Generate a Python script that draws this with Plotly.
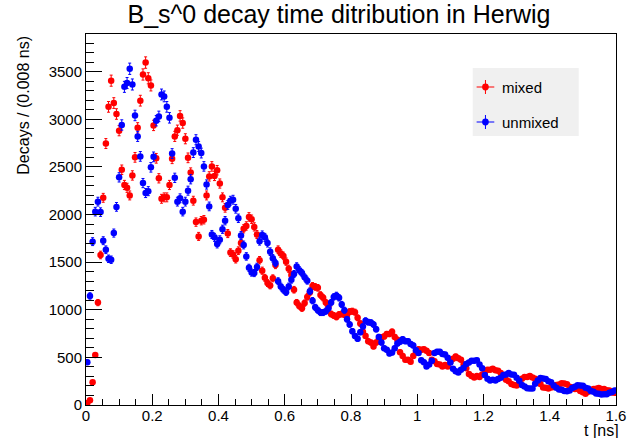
import math
import plotly.graph_objects as go

bin_width = 0.008
n_bins = 200
t_centers = [round((i + 0.5) * bin_width, 4) for i in range(n_bins)]

mixed = [
    20, 50, 240, 525, 1075, 1575, 2175, 2745, 3130, 3405,
    3170, 3055, 2880, 2470, 2310, 2280, 2200, 2410, 2600, 2910,
    3195, 3470, 3595, 3430, 3355, 2935, 2590, 2380, 2165, 2180,
    2180, 2310, 2585, 2820, 2885, 3035, 2960, 2795, 2595, 2440,
    2145, 1920, 1770, 1935, 1945, 2200, 2400, 2505, 2405, 2465,
    2325, 2180, 2070, 1800, 1600, 1580, 1530, 1620, 1700, 1850,
    1880, 1975, 1950, 1870, 1790, 1520, 1410, 1335, 1280, 1255,
    1330, 1470, 1630, 1590, 1565, 1505, 1430, 1365, 1210, 1075,
    1040, 1015, 1070, 1135, 1185, 1250, 1240, 1230, 1155, 1125,
    1075, 1035, 955, 940, 925, 950, 955, 950, 945, 980,
    985, 975, 915, 855, 770, 725, 670, 655, 615, 655,
    685, 710, 720, 745, 745, 770, 715, 685, 555, 515,
    475, 475, 455, 515, 550, 585, 580, 585, 570, 545,
    475, 460, 430, 425, 405, 420, 405, 455, 485, 510,
    490, 475, 425, 385, 325, 305, 290, 305, 295, 320,
    345, 370, 370, 380, 365, 360, 335, 305, 265, 250,
    220, 210, 205, 245, 275, 295, 295, 305, 290, 275,
    235, 220, 185, 182, 172, 185, 188, 210, 215, 228,
    225, 218, 192, 184, 167, 168, 147, 133, 118, 138,
    152, 168, 170, 178, 167, 168, 155, 153, 132, 128,
]

unmixed = [
    450, 1145, 1715, 2030, 2135, 2025, 1725, 1630, 1535, 1525,
    1805, 2080, 2390, 2940, 3340, 3380, 3530, 3365, 3040, 2820,
    2610, 2330, 2225, 2245, 2495, 2605, 2985, 3030, 3260, 3240,
    3130, 3015, 2640, 2385, 2135, 2170, 2030, 2135, 2250, 2370,
    2650, 2785, 2715, 2645, 2505, 2315, 2085, 1790, 1760, 1690,
    1735, 1845, 1935, 2100, 2145, 2155, 2060, 1960, 1780, 1680,
    1560, 1440, 1390, 1385, 1450, 1720, 1785, 1760, 1700, 1610,
    1540, 1490, 1300, 1245, 1210, 1185, 1245, 1315, 1375, 1455,
    1415, 1385, 1340, 1305, 1195, 1095, 1025, 995, 970, 970,
    985, 1015, 1075, 1135, 1150, 1125, 1055, 995, 900, 845,
    775, 725, 695, 765, 825, 885, 870, 865, 845, 795,
    715, 655, 595, 580, 540, 550, 595, 645, 665, 690,
    670, 670, 640, 625, 575, 545, 470, 450, 405, 425,
    465, 545, 560, 560, 535, 530, 495, 445, 380, 355,
    340, 370, 390, 430, 445, 465, 465, 470, 425, 385,
    315, 275, 258, 265, 258, 272, 285, 315, 320, 335,
    320, 318, 285, 255, 210, 195, 176, 173, 172, 222,
    256, 284, 278, 274, 250, 240, 205, 182, 162, 160,
    147, 145, 152, 178, 192, 208, 206, 203, 182, 173,
    147, 138, 120, 118, 110, 113, 113, 128, 137, 153,
]

series_names = ["mixed", "unmixed"]
series_colors = ["#ff0000", "#0000ff"]

FONT = "Liberation Sans, Arial, Helvetica, sans-serif"

# plot-area geometry (pixels) used to place the hand-drawn ROOT-style legend
L, R, T, B = 86, 626, 34, 405
def px(xp):
    return (xp - L) / (R - L)
def py(yp):
    return (B - yp) / (B - T)

fig = go.Figure()
for name, vals, col in zip(series_names, [mixed, unmixed], series_colors):
    fig.add_trace(go.Scatter(
        x=t_centers, y=vals, mode="markers", name=name,
        marker=dict(color=col, size=6.5, symbol="circle"),
        error_y=dict(type="data", array=[math.sqrt(v) for v in vals],
                     color=col, thickness=1, width=1.5),
    ))

shapes = [dict(type="rect", xref="paper", yref="paper",
               x0=px(480), x1=px(588), y0=py(136), y1=py(68),
               fillcolor="#f0f0f0", line=dict(width=0), layer="above")]
annotations = []
for name, col, yc in zip(series_names, series_colors, [87, 122]):
    shapes.append(dict(type="line", xref="paper", yref="paper",
                       x0=px(484), x1=px(502), y0=py(yc), y1=py(yc),
                       line=dict(color=col, width=1), layer="above"))
    shapes.append(dict(type="line", xref="paper", yref="paper",
                       x0=px(493), x1=px(493), y0=py(yc - 7), y1=py(yc + 7),
                       line=dict(color=col, width=1), layer="above"))
    shapes.append(dict(type="circle", xref="paper", yref="paper",
                       x0=px(489.6), x1=px(496.4), y0=py(yc + 3.4), y1=py(yc - 3.4),
                       fillcolor=col, line=dict(color=col, width=0), layer="above"))
    annotations.append(dict(text=name, xref="paper", yref="paper",
                            x=px(508), y=py(yc), xanchor="left", yanchor="middle",
                            showarrow=False,
                            font=dict(family=FONT, size=15, color="black")))

annotations += [
    dict(text="Decays / (0.008 ns)", textangle=-90, xref="paper", yref="paper",
         x=px(22), y=1.0, xanchor="center", yanchor="top", showarrow=False,
         font=dict(family=FONT, size=16, color="black")),
    dict(text="t [ns]", xref="paper", yref="paper", x=px(631), y=py(430),
         xanchor="right", yanchor="middle", showarrow=False,
         font=dict(family=FONT, size=16, color="black")),
]

fig.update_layout(
    width=636, height=438,
    margin=dict(l=L, r=636 - R, t=T, b=438 - B),
    paper_bgcolor="white", plot_bgcolor="white",
    font=dict(family=FONT, size=15, color="black"),
    title=dict(text="B_s^0 decay time ditribution in Herwig",
               x=339 / 636, xanchor="center", xref="container",
               y=1 - 14.5 / 438, yanchor="middle", yref="container",
               font=dict(family=FONT, size=25, color="black")),
    showlegend=False,
    xaxis=dict(range=[0, 1.60001], tickvals=[0, 0.2, 0.4, 0.6, 0.8, 1.0, 1.2, 1.4, 1.6],
               ticktext=["0", "0.2", "0.4", "0.6", "0.8", "1", "1.2", "1.4", "1.6"],
               ticklabeloverflow="allow", ticklabelstandoff=-3,
               ticks="inside", ticklen=11, tickwidth=1, tickcolor="black",
               minor=dict(dtick=0.05, tick0=0, ticklen=6, ticks="inside",
                          tickcolor="black", tickwidth=1),
               showline=True, linecolor="black", linewidth=1, mirror=True,
               showgrid=False, zeroline=False,
               tickfont=dict(family=FONT, size=15, color="black")),
    yaxis=dict(range=[0, 3895], tick0=0, dtick=500, ticks="inside", ticklen=16,
               tickwidth=1, tickcolor="black",
               minor=dict(dtick=100, ticklen=8, ticks="inside", tickcolor="black", tickwidth=1),
               showline=True, linecolor="black", linewidth=1, mirror=True,
               showgrid=False, zeroline=False,
               tickfont=dict(family=FONT, size=15, color="black")),
    shapes=shapes,
    annotations=annotations,
)

fig.write_html("out.html")
